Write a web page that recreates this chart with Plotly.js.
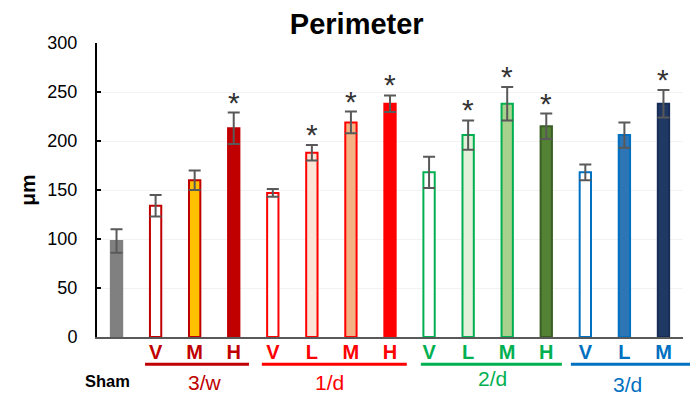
<!DOCTYPE html>
<html>
<head>
<meta charset="utf-8">
<script src="https://cdn.plot.ly/plotly-3.0.1.min.js"></script>
<style>
  html, body { margin: 0; padding: 0; background: #ffffff; }
  #chart { width: 690px; height: 395px; }
</style>
</head>
<body>
<div id="chart"></div>
<script>
// Perimeter (μm) per treatment group, mean ± error
const groupOf   = ['Sham', '3/w', '3/w', '3/w', '1/d', '1/d', '1/d', '1/d', '2/d', '2/d', '2/d', '2/d', '3/d', '3/d', '3/d'];
const doseLabels = ['', 'V', 'M', 'H', 'V', 'L', 'M', 'H', 'V', 'L', 'M', 'H', 'V', 'L', 'M'];
const perimeter = [98, 134, 160, 213, 147, 188, 219, 238, 168, 206, 238, 215, 168, 206, 238];
const errors    = [12, 11, 10, 16, 4, 8, 11, 8.5, 16, 15, 17, 13, 8, 13, 14];
const significant = [false, false, false, true, false, true, true, true, false, true, true, true, false, false, true];

// Period groups drawn beneath the dose labels
const groupNames  = ['3/w', '1/d', '2/d', '3/d'];
const groupColors = ['#c00000', '#ff0000', '#00b050', '#0070c0'];

// Bar styling
const fillColors = ['#808080', '#ffffff', '#ffc000', '#c00000',
                    '#ffffff', '#fbe5d6', '#f4b183', '#ff0000',
                    '#ffffff', '#e2f0d9', '#a9d18e', '#548235',
                    '#ffffff', '#2e75b6', '#203864'];
const lineColors = ['#808080', '#c00000', '#c00000', '#c00000',
                    '#ff0000', '#ff0000', '#ff0000', '#ff0000',
                    '#00b050', '#00b050', '#00b050', '#3a5e24',
                    '#0070c0', '#0070c0', '#172d57'];

const FONT = 'Liberation Sans, Arial, sans-serif';
const n = perimeter.length;
const idx = perimeter.map((_, i) => i);
const colorFor = g => groupColors[groupNames.indexOf(g)] || '#000000';

const trace = {
  type: 'bar',
  x: idx,
  y: perimeter,
  width: 0.29,
  marker: { color: fillColors, line: { color: lineColors, width: 2 } },
  error_y: { type: 'data', array: errors, visible: true, color: '#595959', thickness: 2, width: 6 },
  hoverinfo: 'y'
};

const tickText = doseLabels.map((t, i) =>
  t ? '<b><span style="color:' + colorFor(groupOf[i]) + '">' + t + '</span></b>' : '');

// index -> paper fraction across the category range [-0.5, n-0.5]
const toPaper = v => (v + 0.5) / n;

const annotations = [];
const shapes = [];

// significance stars above the error bars
idx.forEach(i => {
  if (!significant[i]) return;
  annotations.push({
    x: i, y: perimeter[i] + errors[i], xref: 'x', yref: 'y',
    text: '*', showarrow: false, xanchor: 'center', yanchor: 'bottom', yshift: -8,
    font: { family: FONT, size: 30, color: '#333333' }
  });
});

// group underlines and labels
const lineInset = [[0.23, 0.11], [0.22, 0.07], [0.29, 0.10], [0.13, -0.18]];
const labelShift = [8, -5, 1, -3];
const labelY = [-0.155, -0.155, -0.14, -0.16];
groupNames.forEach((g, k) => {
  const members = idx.filter(i => groupOf[i] === g);
  const first = members[0], last = members[members.length - 1];
  const x0 = first - 0.5 + lineInset[k][0];
  const x1 = last + 0.5 - lineInset[k][1];
  shapes.push({
    type: 'line', xref: 'paper', yref: 'paper',
    x0: toPaper(x0), x1: toPaper(x1), y0: -0.093, y1: -0.093,
    line: { color: groupColors[k], width: 3 }
  });
  annotations.push({
    x: toPaper((x0 + x1) / 2), y: labelY[k], xref: 'paper', yref: 'paper',
    text: g, showarrow: false, xshift: labelShift[k], xanchor: 'center', yanchor: 'middle',
    font: { family: FONT, size: 21, color: groupColors[k] }
  });
});

annotations.push({
  x: toPaper(0), y: -0.148, xref: 'paper', yref: 'paper',
  text: '<b>Sham</b>', showarrow: false, xanchor: 'center', yanchor: 'middle', xshift: -9,
  font: { family: FONT, size: 16.5, color: '#000000' }
});

const layout = {
  width: 690, height: 395,
  margin: { l: 97, r: 7, t: 43, b: 58 },
  paper_bgcolor: '#ffffff', plot_bgcolor: '#ffffff',
  showlegend: false,
  title: {
    text: '<b>Perimeter</b>',
    x: 0.517, xanchor: 'center', y: 0.94, yanchor: 'middle',
    font: { family: FONT, size: 29, color: '#000000' }
  },
  xaxis: {
    range: [-0.5, n - 0.5],
    tickmode: 'array', tickvals: idx, ticktext: tickText,
    showline: true, linecolor: '#595959', linewidth: 2,
    ticks: '', showgrid: false, zeroline: false,
    tickfont: { family: FONT, size: 20 },
    ticklabelstandoff: -4
  },
  yaxis: {
    range: [0, 300], dtick: 50, tick0: 0,
    showline: true, linecolor: '#000000', linewidth: 2,
    ticks: 'inside', ticklen: 4, tickcolor: '#000000', tickwidth: 1.5,
    showgrid: true, gridcolor: '#f2f2f2', gridwidth: 1,
    zeroline: false,
    tickfont: { family: FONT, size: 18, color: '#000000' },
    ticklabelstandoff: 14,
    title: { text: '<b>μm</b>', font: { family: FONT, size: 21, color: '#000000' }, standoff: 6 }
  },
  annotations: annotations,
  shapes: shapes,
  bargap: 0.7
};

Plotly.newPlot('chart', [trace], layout, { displayModeBar: false, staticPlot: true });
</script>
</body>
</html>
